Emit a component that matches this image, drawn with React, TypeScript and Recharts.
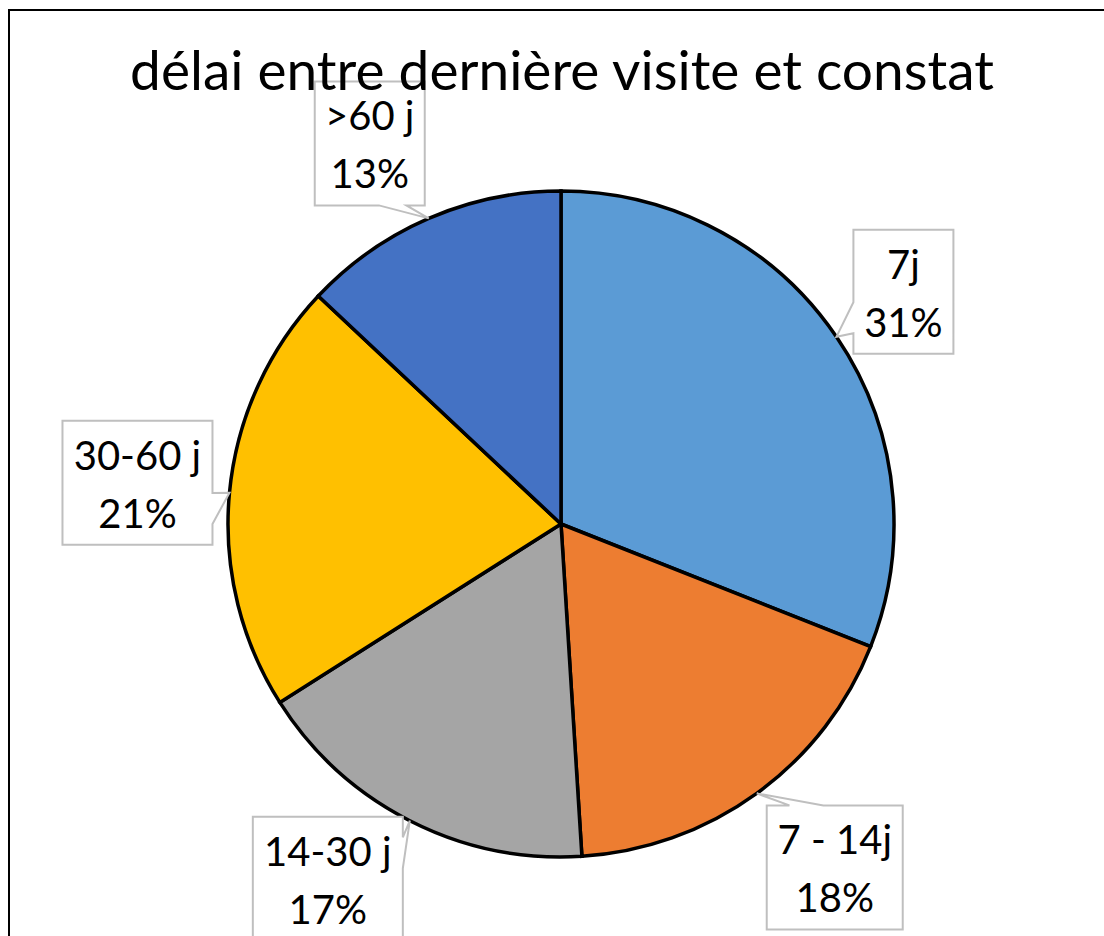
import React from 'react';
import { PieChart, Pie, Cell } from 'recharts';

const categories = ['7j', '7 - 14j', '14-30 j', '30-60 j', '>60 j'];
const percentages = [31, 18, 17, 21, 13];
const colors = ['#5B9BD5', '#ED7D31', '#A5A5A5', '#FFC000', '#4472C4'];
const TITLE = 'délai entre dernière visite et constat';

// callout layout: offset of box centre from the slice's arc point, box widths
const labelOffsets = [[67, -45], [78, 74], [-82, 58], [-92, -10], [-59, -75]];
const labelWidths = [100, 136, 150, 150, 110];
const LABEL_H = 124;
const FONT = 'Lato, "Open Sans", sans-serif';

const data = categories.map((name, i) => ({ name, value: percentages[i] }));

function calloutPath(l: number, t: number, w: number, h: number, tx: number, ty: number) {
  const r = l + w;
  const b = t + h;
  const dxPos = tx - (l + w / 2);
  const dyPos = ty - (t + h / 2);
  const x1 = l + (w * (dxPos > 0 ? 7 : 2)) / 12;
  const x2 = l + (w * (dxPos > 0 ? 10 : 5)) / 12;
  const y1 = t + (h * (dyPos > 0 ? 7 : 2)) / 12;
  const y2 = t + (h * (dyPos > 0 ? 10 : 5)) / 12;
  const horiz = Math.abs(dxPos) / w > Math.abs(dyPos) / h;
  let d = `M${l},${t}`;
  if (!horiz && dyPos < 0) d += ` L${x1},${t} L${tx},${ty} L${x2},${t}`;
  d += ` L${r},${t}`;
  if (horiz && dxPos > 0) d += ` L${r},${y1} L${tx},${ty} L${r},${y2}`;
  d += ` L${r},${b}`;
  if (!horiz && dyPos > 0) d += ` L${x2},${b} L${tx},${ty} L${x1},${b}`;
  d += ` L${l},${b}`;
  if (horiz && dxPos < 0) d += ` L${l},${y2} L${tx},${ty} L${l},${y1}`;
  d += ' Z';
  return d;
}

const renderLabel = (props: any) => {
  const { cx, cy, midAngle, outerRadius, index, name, value } = props;
  const rad = Math.PI / 180;
  const tx = cx + outerRadius * Math.cos(-midAngle * rad);
  const ty = cy + outerRadius * Math.sin(-midAngle * rad);
  const [ox, oy] = labelOffsets[index];
  const w = labelWidths[index];
  const bcx = tx + ox;
  const bcy = ty + oy;
  const l = bcx - w / 2;
  const t = bcy - LABEL_H / 2;
  return (
    <g key={`lbl-${index}`}>
      <path d={calloutPath(l, t, w, LABEL_H, tx, ty)} fill="#ffffff" stroke="#BFBFBF" strokeWidth={2} />
      <text x={bcx} y={t + 49} textAnchor="middle" fontSize={40} fontFamily={FONT} fill="#000">
        {name}
      </text>
      <text x={bcx} y={t + 107} textAnchor="middle" fontSize={40} fontFamily={FONT} fill="#000">
        {`${value}%`}
      </text>
    </g>
  );
};

export default function App() {
  return (
    <div style={{ position: 'absolute', left: 0, top: 0, width: 1104, height: 936, overflow: 'hidden', background: '#fff' }}>
      <div style={{ position: 'absolute', left: 8, top: 9, width: 1200, height: 1000, borderLeft: '2px solid #000', borderTop: '2px solid #000' }} />
      <div style={{ position: 'absolute', left: 0, top: 0 }}>
        <PieChart width={1104} height={936} margin={{ top: 0, right: 0, bottom: 0, left: 0 }}>
          <Pie
            data={data}
            dataKey="value"
            nameKey="name"
            cx={561}
            cy={524}
            outerRadius={333}
            startAngle={90}
            endAngle={-270}
            stroke="#000"
            strokeWidth={3.5}
            label={renderLabel}
            labelLine={false}
            isAnimationActive={false}
          >
            {data.map((d, i) => (
              <Cell key={d.name} fill={colors[i]} />
            ))}
          </Pie>
        </PieChart>
      </div>
      <svg width={1104} height={936} style={{ position: 'absolute', left: 0, top: 0, pointerEvents: 'none' }}>
        <text x={562} y={90} textAnchor="middle" fontSize={55} fontFamily={FONT} fill="#000">
          {TITLE}
        </text>
      </svg>
    </div>
  );
}
